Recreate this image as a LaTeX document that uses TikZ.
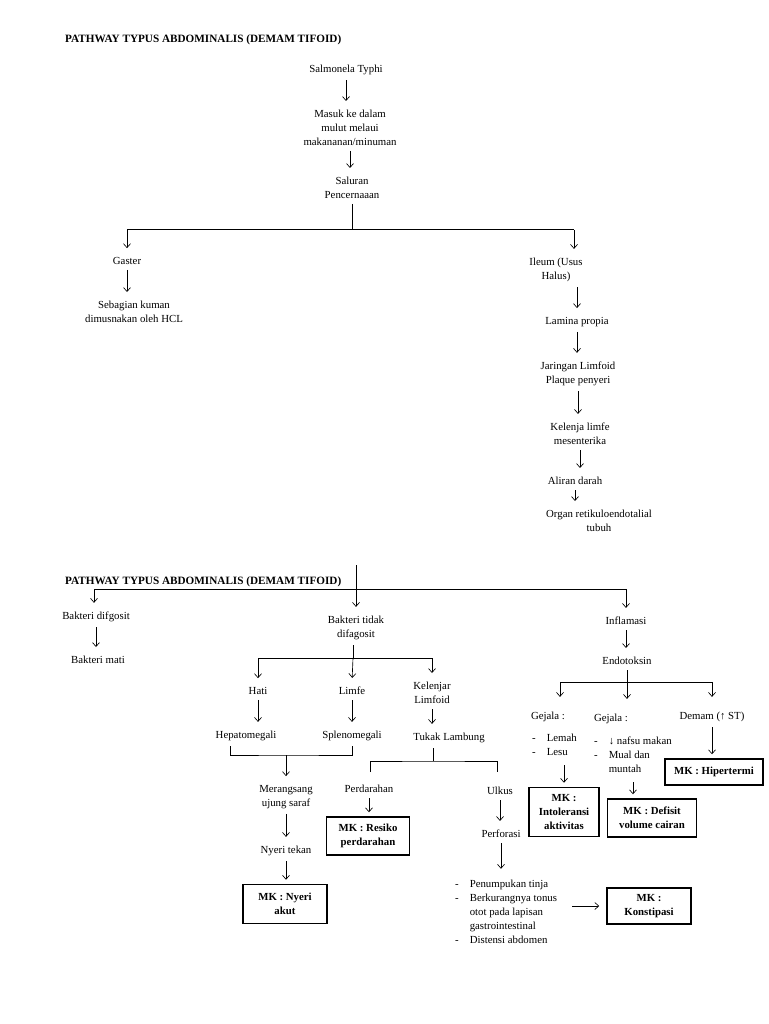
\documentclass[tikz,border=0pt]{standalone}
\usepackage{fontspec}
\setmainfont{Liberation Serif}
\usetikzlibrary{arrows.meta,calc}
\tikzstyle{arr}=[-{Straight Barb[length=4pt,width=7pt]}, line width=0.65pt, shorten >=4pt]
\tikzstyle{lin}=[line width=1pt]
\tikzstyle{tx}=[align=center, inner sep=5pt]
\tikzstyle{judul}=[anchor=west, inner sep=0pt, font=\bfseries\fontsize{11.2}{14}\selectfont]
\tikzstyle{mk}=[draw, line width=1.5pt, align=center, font=\bfseries, inner sep=1pt]
\newcommand{\daftar}[1]{\begin{tabular}{@{}l@{\hspace{11pt}}l@{}}#1\end{tabular}}

\begin{document}
\begin{tikzpicture}[x=1pt,y=-1pt]
\fontsize{10.8}{14}\selectfont
\fill[white] (0,0) rectangle (768,1024);
\useasboundingbox (0,0) rectangle (768,1024);

\node[judul] (judul1) at (65,40) {PATHWAY TYPUS ABDOMINALIS (DEMAM TIFOID)};
\node[tx] (salm) at (346,70) {Salmonela Typhi};
\node[tx] (masuk) at (350,128) {Masuk ke dalam\\mulut melaui\\makananan/minuman};
\node[tx] (salur) at (352,188) {Saluran\\Pencernaaan};
\node[tx] (gaster) at (127,261) {Gaster};
\node[tx] (sebag) at (134,312) {Sebagian kuman\\dimusnakan oleh HCL};
\node[tx] (ileum) at (556,270) {Ileum (Usus\\Halus)};
\node[tx] (lamina) at (577,322) {Lamina propia};
\node[tx] (jaring) at (578,374) {Jaringan Limfoid\\Plaque penyeri};
\node[tx] (kelenja) at (580,434) {Kelenja limfe\\mesenterika};
\node[tx] (aliran) at (575,481) {Aliran darah};
\node[tx] (organ) at (599,521) {Organ retikuloendotalial\\tubuh};

\node[judul] (judul2) at (65,582) {PATHWAY TYPUS ABDOMINALIS (DEMAM TIFOID)};
\node[tx] (difg) at (96,617) {Bakteri difgosit};
\node[tx] (mati) at (98,660) {Bakteri mati};
\node[tx] (tidak) at (356,628) {Bakteri tidak\\difagosit};
\node[tx] (hati) at (258,691) {Hati};
\node[tx] (limfe) at (352,691) {Limfe};
\node[tx] (kelenjar) at (432,693) {Kelenjar\\Limfoid};
\node[tx] (hepato) at (246,736) {Hepatomegali};
\node[tx] (spleno) at (352,736) {Splenomegali};
\node[tx] (tukak) at (449,738) {Tukak Lambung};
\node[tx] (meran) at (286,797) {Merangsang\\ujung saraf};
\node[tx] (nyeri) at (286,851) {Nyeri tekan};
\node[mk, minimum width=84pt, minimum height=39pt] (mknyeri) at (285,904) {MK : Nyeri\\akut};
\node[tx] (perdar) at (369,789) {Perdarahan};
\node[mk, minimum width=83pt, minimum height=38pt] (mkresiko) at (368,836) {MK : Resiko\\perdarahan};
\node[tx] (ulkus) at (500,791) {Ulkus};
\node[tx] (perfo) at (501,834) {Perforasi};
\node[tx, anchor=west] (listc) at (450,913) {\daftar{- & Penumpukan tinja\\ - & Berkurangnya tonus\\ & otot pada lapisan\\ & gastrointestinal\\ - & Distensi abdomen}};
\node[mk, minimum width=84pt, minimum height=36pt] (mkkons) at (649,906) {MK :\\Konstipasi};
\node[tx] (infl) at (626,621) {Inflamasi};
\node[tx] (endo) at (627,661) {Endotoksin};
\node[tx] (gej1) at (548,717) {Gejala :};
\node[tx] (gej2) at (611,719) {Gejala :};
\node[tx] (demam) at (712,717) {Demam (↑ ST)};
\node[tx, anchor=west] (lista) at (527,746) {\daftar{- & Lemah\\ - & Lesu}};
\node[tx, anchor=west] (listb) at (589,756) {\daftar{- & ↓ nafsu makan\\ - & Mual dan\\ & muntah}};
\node[mk, minimum width=70pt, minimum height=49pt] (mkintol) at (564,812) {MK :\\Intoleransi\\aktivitas};
\node[mk, minimum width=89pt, minimum height=38pt] (mkdef) at (652,818) {MK : Defisit\\volume cairan};
\node[mk, minimum width=98pt, minimum height=26pt] (mkhiper) at (714,772) {MK : Hipertermi};

\foreach \a/\b in {salm/masuk,masuk/salur,gaster/sebag,lamina/jaring,jaring/kelenja,kelenja/aliran,aliran/organ,difg/mati,hati/hepato,limfe/spleno,kelenjar/tukak,meran/nyeri,nyeri/mknyeri,perdar/mkresiko,ulkus/perfo,perfo/listc,infl/endo,listb/mkdef,demam/mkhiper} {
	\draw[arr] (\a.south) -- (\a.south |- \b.north);
}
\foreach \a/\b in {ileum/lamina,lista/mkintol} {
	\draw[arr] (\a.south -| \b.north) -- (\b.north);
}

\coordinate (s1) at (352,230);
\coordinate (s1l) at (127,230);
\coordinate (s1r) at (574,230);
\draw[lin] (salur.south) -- (s1);
\draw[lin] (s1l) -- (s1r);
\draw[arr] (s1l) -- (gaster.north);
\draw[arr] (s1r) -- (s1r |- ileum.north);

\coordinate (s2) at (356,565);
\coordinate (s2l) at (94,589);
\coordinate (s2r) at (626,589);
\draw[lin] (s2l) -- (s2r);
\draw[arr] (s2) -- (tidak.north);
\draw[arr] (s2l) -- (s2l |- difg.north);
\draw[arr] (s2r) -- (infl.north);

\coordinate (s3) at (353,658);
\coordinate (s3l) at (258,658);
\coordinate (s3r) at (432,658);
\draw[lin] (tidak.south -| s3) -- (s3);
\draw[lin] (s3l) -- (s3r);
\draw[arr] (s3l) -- (hati.north);
\draw[arr] (s3) -- (limfe.north);
\draw[arr] (s3r) -- (kelenjar.north);

\coordinate (s4) at (286,755);
\draw[lin] ([xshift=-16pt]hepato.south) |- (s4) -| (spleno.south);
\draw[arr] (s4) -- (meran.north);

\coordinate (s5) at (433,761);
\coordinate (s5l) at (370,772);
\coordinate (s5r) at (497,772);
\draw[lin] (tukak.south -| s5) -- (s5);
\draw[lin] (s5l) |- (s5) -| (s5r);

\coordinate (s6) at (627,682);
\coordinate (s6l) at (560,682);
\coordinate (s6r) at (712,682);
\draw[lin] (s6l) -- (s6r);
\draw[arr, shorten >=10pt] (endo.south) -- (endo.south |- gej2.north);
\draw[arr, shorten >=10pt] (s6l) -- (s6l |- gej1.north);
\draw[arr, shorten >=10pt] (s6r) -- (s6r |- demam.north);

\draw[arr, shorten <=10pt, shorten >=7pt] (listc.east |- mkkons.west) -- (mkkons.west);
\end{tikzpicture}
\end{document}
